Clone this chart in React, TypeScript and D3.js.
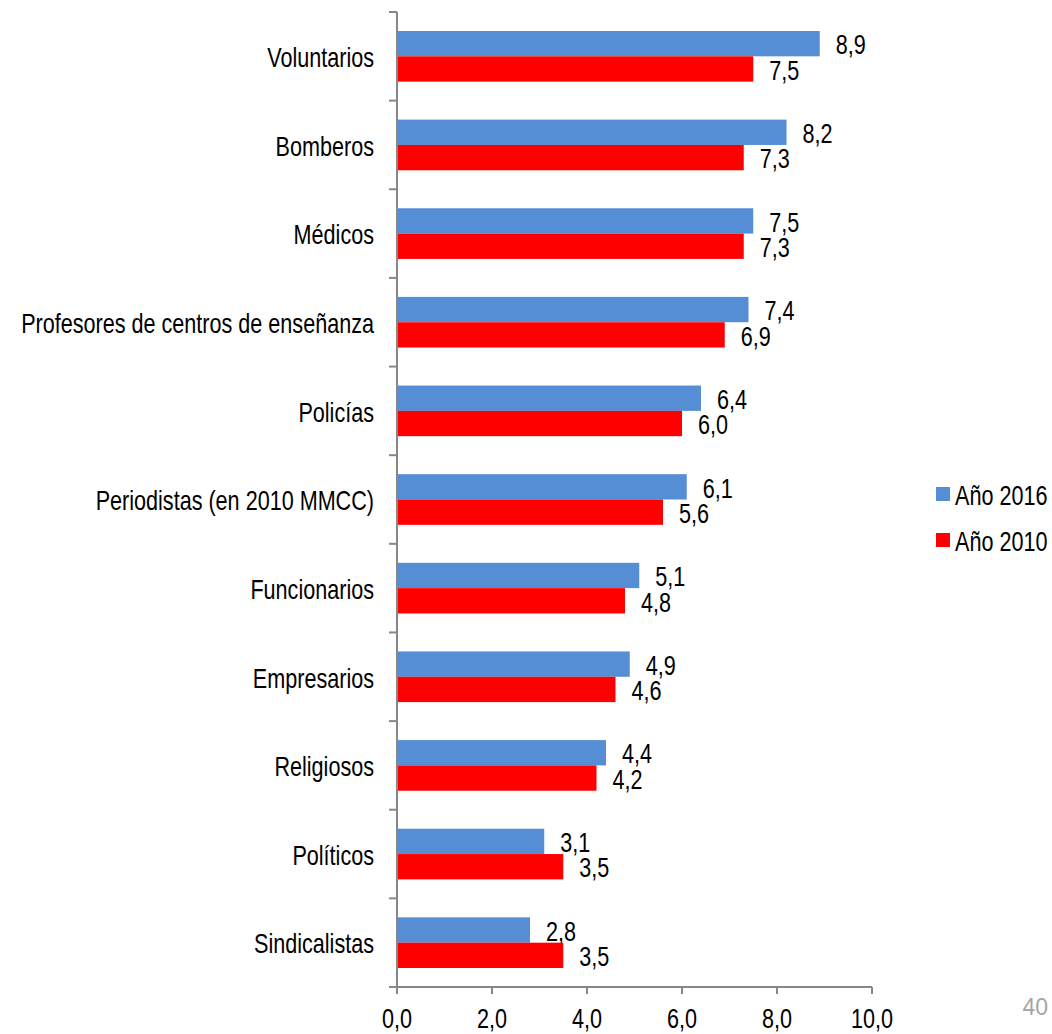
import React from "react";
import * as d3 from "d3";

const categories = [
  "Voluntarios",
  "Bomberos",
  "Médicos",
  "Profesores de centros de enseñanza",
  "Policías",
  "Periodistas (en 2010 MMCC)",
  "Funcionarios",
  "Empresarios",
  "Religiosos",
  "Políticos",
  "Sindicalistas",
];
const values2016 = [8.9, 8.2, 7.5, 7.4, 6.4, 6.1, 5.1, 4.9, 4.4, 3.1, 2.8];
const values2010 = [7.5, 7.3, 7.3, 6.9, 6.0, 5.6, 4.8, 4.6, 4.2, 3.5, 3.5];
const seriesNames = ["Año 2016", "Año 2010"];
const seriesColors = ["#558ED5", "#FF0000"];
const xTicks = [0, 2, 4, 6, 8, 10];

const FONT = "'Liberation Sans', Arial, sans-serif";
const FS = 27;
const SX = 0.8;

function NText(props: { x: number; y: number; anchor?: string; dy?: string; children: React.ReactNode }) {
  return (
    <text
      transform={`translate(${props.x},${props.y}) scale(${SX},1)`}
      dy={props.dy}
      textAnchor={props.anchor || "start"}
      fontSize={FS}
      fill="#000"
    >
      {props.children}
    </text>
  );
}

export default function App() {
  const W = 1052, H = 1034;
  const x0 = 397, x1 = 872, yTop = 12, yBot = 987;
  const x = d3.scaleLinear().domain([0, 10]).range([x0, x1]);
  const y = d3.scaleBand<string>().domain(categories).range([yTop, yBot]).padding(0);
  const inner = d3.scaleBand<string>().domain(seriesNames).range([0, y.bandwidth()]).paddingOuter(0.75).paddingInner(0);
  const series = [values2016, values2010];
  const fmt = (v: number) => d3.format(".1f")(v).replace(".", ",");
  const axisColor = "#878787";
  const boundaries = d3.range(categories.length + 1).map((i) => yTop + i * y.step());

  return (
    <svg width={W} height={H} style={{ position: "absolute", left: 0, top: 0, background: "#fff" }} fontFamily={FONT}>
      {categories.map((c, i) => (
        <g key={c}>
          {series.map((vals, s) => {
            const by = (y(c) as number) + (inner(seriesNames[s]) as number);
            const bh = inner.bandwidth();
            return (
              <g key={s}>
                <rect x={x(0)} y={by} width={x(vals[i]) - x(0)} height={bh} fill={seriesColors[s]} />
                <NText x={x(vals[i]) + 16} y={by + bh / 2 + 1} dy="0.36em">
                  {fmt(vals[i])}
                </NText>
              </g>
            );
          })}
          <NText x={374} y={(y(c) as number) + y.bandwidth() / 2 + 1} dy="0.36em" anchor="end">
            {c}
          </NText>
        </g>
      ))}
      <line x1={x0} x2={x0} y1={yTop} y2={yBot} stroke={axisColor} strokeWidth={2} />
      {boundaries.map((b, i) => (
        <line key={i} x1={x0 - 8} x2={x0} y1={b} y2={b} stroke={axisColor} strokeWidth={2} />
      ))}
      <line x1={x0 - 8} x2={x1} y1={yBot} y2={yBot} stroke={axisColor} strokeWidth={2} />
      {xTicks.map((t) => (
        <g key={t}>
          <line x1={x(t)} x2={x(t)} y1={yBot} y2={yBot + 7} stroke={axisColor} strokeWidth={2} />
          <NText x={x(t)} y={1028} anchor="middle">
            {fmt(t)}
          </NText>
        </g>
      ))}
      {seriesNames.map((n, s) => (
        <g key={n}>
          <rect x={936} y={487 + s * 46} width={14} height={14} fill={seriesColors[s]} />
          <NText x={955} y={494 + s * 46 + 1} dy="0.36em">
            {n}
          </NText>
        </g>
      ))}
      <text x={1048} y={1015} textAnchor="end" fontSize={23} fill="#a6a6a6">
        40
      </text>
    </svg>
  );
}
